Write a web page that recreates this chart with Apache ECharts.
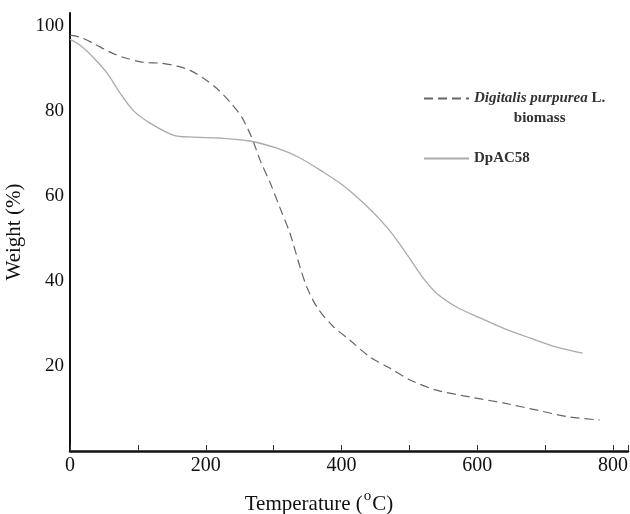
<!DOCTYPE html>
<html><head><meta charset="utf-8">
<script src="https://cdn.jsdelivr.net/npm/echarts@6/dist/echarts.min.js"></script>
<style>html,body{margin:0;padding:0;background:#fff}#c{width:630px;height:514px}</style>
</head><body><div id="c"></div>
<script>
// Digitalis purpurea L. biomass (dashed)
const biomassTemp = [0, 15, 34, 59, 78, 108, 133, 158, 177, 196, 216, 236, 253, 268, 280, 295, 309, 324, 339, 349, 364, 387, 412, 442, 471, 501, 540, 589, 638, 688, 736, 780];
const biomassWeight = [97.8, 97.3, 95.9, 93.8, 92.6, 91.4, 91.2, 90.5, 89.5, 87.7, 85.3, 82.0, 78.5, 73.6, 68.4, 63.0, 57.3, 51.2, 43.2, 38.5, 33.8, 29.4, 26.1, 22.1, 19.5, 16.7, 14.3, 12.7, 11.3, 9.6, 8.0, 7.3];
// DpAC58 (solid)
const acTemp = [0, 15, 34, 55, 74, 93, 118, 152, 181, 221, 265, 305, 339, 373, 402, 437, 467, 486, 505, 520, 540, 570, 604, 638, 677, 717, 755];
const acWeight = [96.8, 95.4, 92.6, 88.8, 84.1, 80.1, 77.1, 74.3, 73.8, 73.6, 72.9, 71.2, 68.9, 65.6, 62.5, 57.6, 52.6, 48.6, 44.2, 40.7, 37.1, 33.8, 31.3, 28.9, 26.6, 24.4, 23.0];
const xTickLabels = [0, 200, 400, 600, 800];
const yTickLabels = [20, 40, 60, 80, 100];
const seriesNames = ['Digitalis purpurea L. biomass', 'DpAC58'];

const FONT = '"Liberation Serif", "Times New Roman", serif';
const zip = (a, b) => a.map((v, i) => [v, b[i]]);

const chart = echarts.init(document.getElementById('c'), null, {renderer: 'canvas'});
chart.setOption({
  backgroundColor: '#fff',
  animation: false,
  grid: {left: 70, right: 2, top: 13, bottom: 63, containLabel: false, outerBoundsMode: 'none'},
  legend: {
    orient: 'vertical',
    left: 423, top: 71,
    padding: 0,
    itemGap: 25,
    itemWidth: 45, itemHeight: 14,
    data: seriesNames,
    itemStyle: {opacity: 0, color: 'transparent', borderWidth: 0},
    formatter: function (name) {
      if (name === seriesNames[0]) return '{b| }\n{i|Digitalis purpurea} {b|L.}\n{c|biomass}';
      return '{b|' + name + '}';
    },
    textStyle: {
      fontFamily: FONT, fontSize: 15, color: '#333', fontWeight: 'bold',
      rich: {
        i: {fontFamily: FONT, fontSize: 15, fontStyle: 'italic', fontWeight: 'bold', color: '#333', lineHeight: 20},
        b: {fontFamily: FONT, fontSize: 15, fontWeight: 'bold', color: '#333', lineHeight: 20},
        c: {fontFamily: FONT, fontSize: 15, fontWeight: 'bold', color: '#333', lineHeight: 20, align: 'center'}
      }
    }
  },
  xAxis: {
    type: 'value', min: 0, max: 822, interval: 100,
    name: 'Temperature ({s|o}C)', nameLocation: 'middle', nameGap: 41,
    nameTextStyle: {
      fontFamily: FONT, fontSize: 21, color: '#111', lineHeight: 24, padding: [0, 60, 0, 0],
      rich: {s: {fontFamily: FONT, fontSize: 15, lineHeight: 6, height: 8, color: '#111', verticalAlign: 'top', padding: [0, 1, 0, 1]}}
    },
    axisLine: {show: true, onZero: false, lineStyle: {color: '#111', width: 2.5}},
    axisTick: {show: true, inside: true, length: 6, lineStyle: {color: '#333', width: 1}},
    axisLabel: {
      fontFamily: FONT, fontSize: 20, color: '#111', margin: 5,
      formatter: v => (xTickLabels.indexOf(v) >= 0 ? String(v) : '')
    },
    splitLine: {show: false}
  },
  yAxis: {
    type: 'value', min: 0, max: 103, interval: 20,
    name: 'Weight (%)', nameLocation: 'middle', nameGap: 39,
    nameTextStyle: {fontFamily: FONT, fontSize: 21, color: '#111'},
    axisLine: {show: true, lineStyle: {color: '#111', width: 2}},
    axisTick: {show: false},
    axisLabel: {
      fontFamily: FONT, fontSize: 19, color: '#111', margin: 6,
      formatter: v => (yTickLabels.indexOf(v) >= 0 ? String(v) : '')
    },
    splitLine: {show: false}
  },
  series: [
    {
      name: seriesNames[0], type: 'line', data: zip(biomassTemp, biomassWeight),
      smooth: 0.3, symbol: 'none', showSymbol: false,
      lineStyle: {color: '#666', width: 1.2, type: [9, 5]},
      itemStyle: {color: '#666'}
    },
    {
      name: seriesNames[1], type: 'line', data: zip(acTemp, acWeight),
      smooth: 0.3, symbol: 'none', showSymbol: false,
      lineStyle: {color: '#aaa', width: 1.3, type: 'solid'},
      itemStyle: {color: '#aaa'}
    }
  ]
});
</script></body></html>
